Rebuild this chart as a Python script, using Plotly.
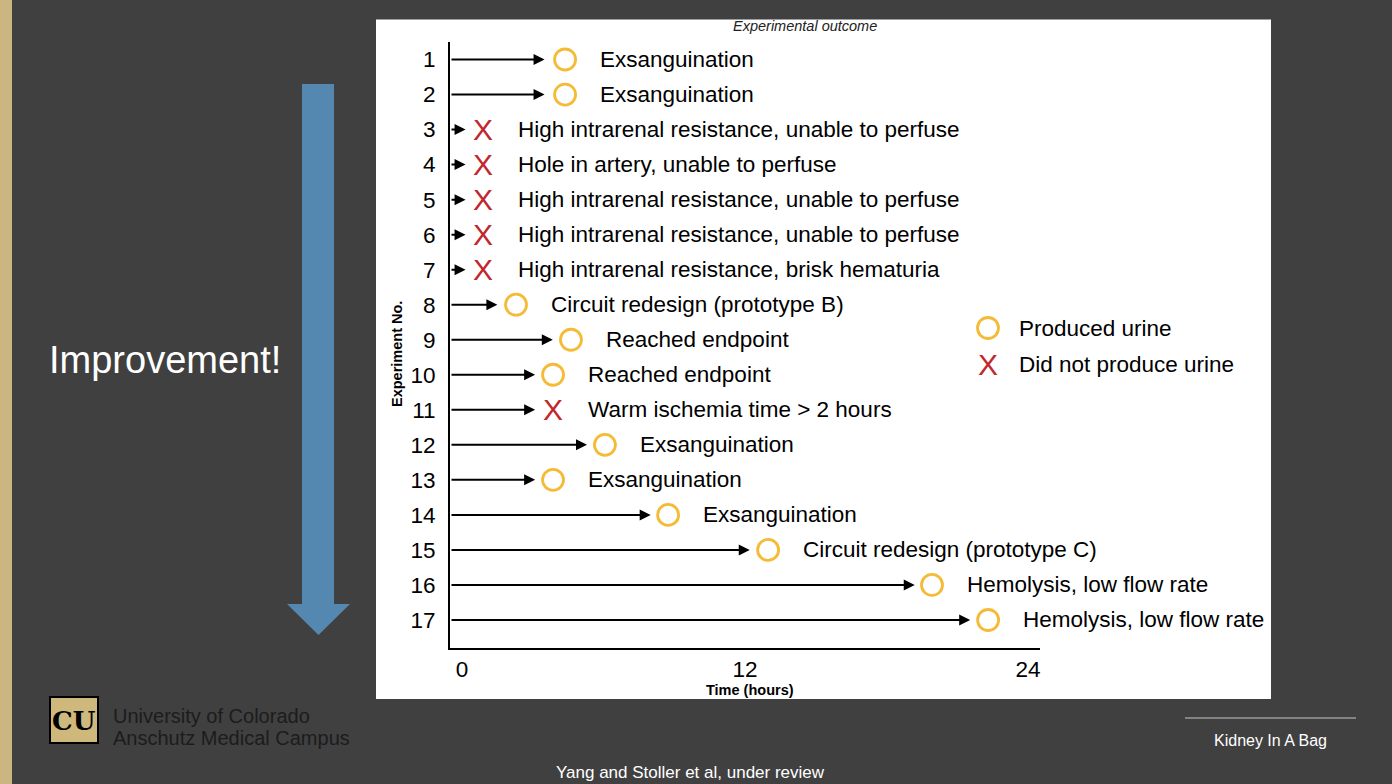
import plotly.graph_objects as go

# ---------------- data ----------------
experiments = list(range(1, 18))
# time of arrow end (hours)
arrow_end_hours = [3.5, 3.5, 0.15, 0.15, 0.15, 0.15, 0.15, 1.5, 3.85, 3.1, 3.1, 5.3, 3.1, 8.0, 12.2, 19.2, 21.55]
# outcome marker position (hours)
marker_hours = [4.37, 4.37, 0.89, 0.89, 0.89, 0.89, 0.89, 2.29, 4.62, 3.86, 3.86, 6.06, 3.86, 8.74, 12.98, 19.93, 22.31]
produced_urine = [True, True, False, False, False, False, False, True, True, True, False, True, True, True, True, True, True]
outcomes = [
    "Exsanguination",
    "Exsanguination",
    "High intrarenal resistance, unable to perfuse",
    "Hole in artery, unable to perfuse",
    "High intrarenal resistance, unable to perfuse",
    "High intrarenal resistance, unable to perfuse",
    "High intrarenal resistance, brisk hematuria",
    "Circuit redesign (prototype B)",
    "Reached endpoint",
    "Reached endpoint",
    "Warm ischemia time > 2 hours",
    "Exsanguination",
    "Exsanguination",
    "Exsanguination",
    "Circuit redesign (prototype C)",
    "Hemolysis, low flow rate",
    "Hemolysis, low flow rate",
]
x_tickvals = [0, 12, 24]
legend_labels = ["Produced urine", "Did not produce urine"]

# ---------------- style ----------------
W, H = 1392, 784
BG = "#404040"
GOLD = "#CBB682"
YELLOW = "#F5BB36"
RED = "#C1272D"
BLUE = "#5588B1"
FONT = "Liberation Sans, Arial, Helvetica, sans-serif"


def px(x):
    return x / W


def py(y):
    return 1 - y / H


def ptext(x, y, text, size, color, xanchor="center", **kw):
    return dict(x=px(x), y=py(y), xref="paper", yref="paper", text=text,
                showarrow=False, xanchor=xanchor, yanchor="middle",
                font=dict(size=size, color=color, family=kw.pop("family", FONT)), **kw)


fig = go.Figure()

# circles (produced urine)
cx = [m for m, p in zip(marker_hours, produced_urine) if p]
cy = [e for e, p in zip(experiments, produced_urine) if p]
fig.add_trace(go.Scatter(
    x=cx, y=cy, mode="markers",
    marker=dict(symbol="circle-open", size=21, color=YELLOW, line=dict(width=2.8, color=YELLOW)),
    showlegend=False, hoverinfo="skip",
))

annotations = []
# X marks (did not produce urine)
for m, e, p in zip(marker_hours, experiments, produced_urine):
    if not p:
        annotations.append(dict(
            x=m, y=e, xref="x", yref="y", text="X", showarrow=False,
            xanchor="center", yanchor="middle",
            font=dict(size=30, color=RED, family=FONT),
        ))
# arrows
for t, e in zip(arrow_end_hours, experiments):
    annotations.append(dict(
        x=t, y=e, ax=-0.51, ay=e, xref="x", yref="y", axref="x", ayref="y",
        text="", showarrow=True, arrowhead=2, arrowsize=1.1, arrowwidth=2,
        arrowcolor="black", standoff=0,
    ))
# outcome labels
for m, e, txt in zip(marker_hours, experiments, outcomes):
    annotations.append(dict(
        x=m, y=e, xref="x", yref="y", text=txt, showarrow=False,
        xanchor="left", yanchor="middle", xshift=33,
        font=dict(size=22.5, color="black", family=FONT),
    ))

# chart titles, legend, slide texts
annotations += [
    ptext(805, 26, "<i>Experimental outcome</i>", 14.5, "#222"),
    ptext(750, 690, "<b>Time (hours)</b>", 14.5, "black"),
    ptext(397, 354, "<b>Experiment No.</b>", 14.5, "black", textangle=-90),
    ptext(1017, 328, legend_labels[0], 22.5, "black", xanchor="left"),
    ptext(1017, 364, legend_labels[1], 22.5, "black", xanchor="left"),
    ptext(988, 364, "X", 30, RED),
    ptext(165, 360, "Improvement!", 38, "white"),
    ptext(111, 716, "University of Colorado", 20, "#1c1c1c", xanchor="left"),
    ptext(111, 738, "Anschutz Medical Campus", 20, "#1c1c1c", xanchor="left"),
    ptext(1270, 740, "Kidney In A Bag", 16, "white"),
    ptext(690, 772, "Yang and Stoller et al, under review", 17, "white"),
    ptext(74, 721, "<b>CU</b>", 26, "black", family="DejaVu Serif, serif"),
]

shapes = [
    # gold stripe
    dict(type="rect", xref="paper", yref="paper", x0=0, x1=px(12), y0=0, y1=1,
         fillcolor=GOLD, line=dict(width=0), layer="below"),
    # white chart panel
    dict(type="rect", xref="paper", yref="paper", x0=px(376), x1=px(1271), y0=py(699), y1=py(19.5),
         fillcolor="white", line=dict(width=0), layer="below"),
    # blue arrow
    dict(type="path", xref="paper", yref="paper",
         path=(f"M {px(302)} {py(84)} L {px(334)} {py(84)} L {px(334)} {py(604)} L {px(350)} {py(604)} "
               f"L {px(318.5)} {py(635)} L {px(287)} {py(604)} L {px(302)} {py(604)} Z"),
         fillcolor=BLUE, line=dict(width=0), layer="below"),
    # legend circle
    dict(type="circle", xref="paper", yref="paper", x0=px(977.5), x1=px(998.5), y0=py(338.5), y1=py(317.5),
         line=dict(color=YELLOW, width=2.8), fillcolor="rgba(0,0,0,0)"),
    # footer line
    dict(type="line", xref="paper", yref="paper", x0=px(1185), x1=px(1356), y0=py(718), y1=py(718),
         line=dict(color="#9a9a9a", width=1.5)),
    # logo
    dict(type="rect", xref="paper", yref="paper", x0=px(50), x1=px(98), y0=py(743), y1=py(697),
         fillcolor="#CFB87C", line=dict(color="black", width=2), layer="below"),
]

fig.update_layout(
    width=W, height=H,
    margin=dict(l=0, r=0, t=0, b=0),
    paper_bgcolor=BG,
    plot_bgcolor="rgba(0,0,0,0)",
    showlegend=False,
    annotations=annotations,
    shapes=shapes,
    font=dict(family=FONT),
    xaxis=dict(
        domain=[px(450), px(1040)],
        range=[-0.51, 24.51],
        tickvals=x_tickvals, ticktext=[str(v) for v in x_tickvals],
        showline=True, linecolor="black", linewidth=2,
        showgrid=False, zeroline=False,
        ticks="", ticklen=0,
        tickfont=dict(size=22.5, color="black", family=FONT),
    ),
    yaxis=dict(
        domain=[py(648), py(42)],
        range=[17.8, 0.5],
        tickvals=experiments, ticktext=[str(e) for e in experiments],
        showline=True, linecolor="black", linewidth=2,
        showgrid=False, zeroline=False,
        ticks="outside", ticklen=8, tickcolor="rgba(0,0,0,0)",
        tickfont=dict(size=22.5, color="black", family=FONT),
    ),
)

fig.write_html("out.html")
